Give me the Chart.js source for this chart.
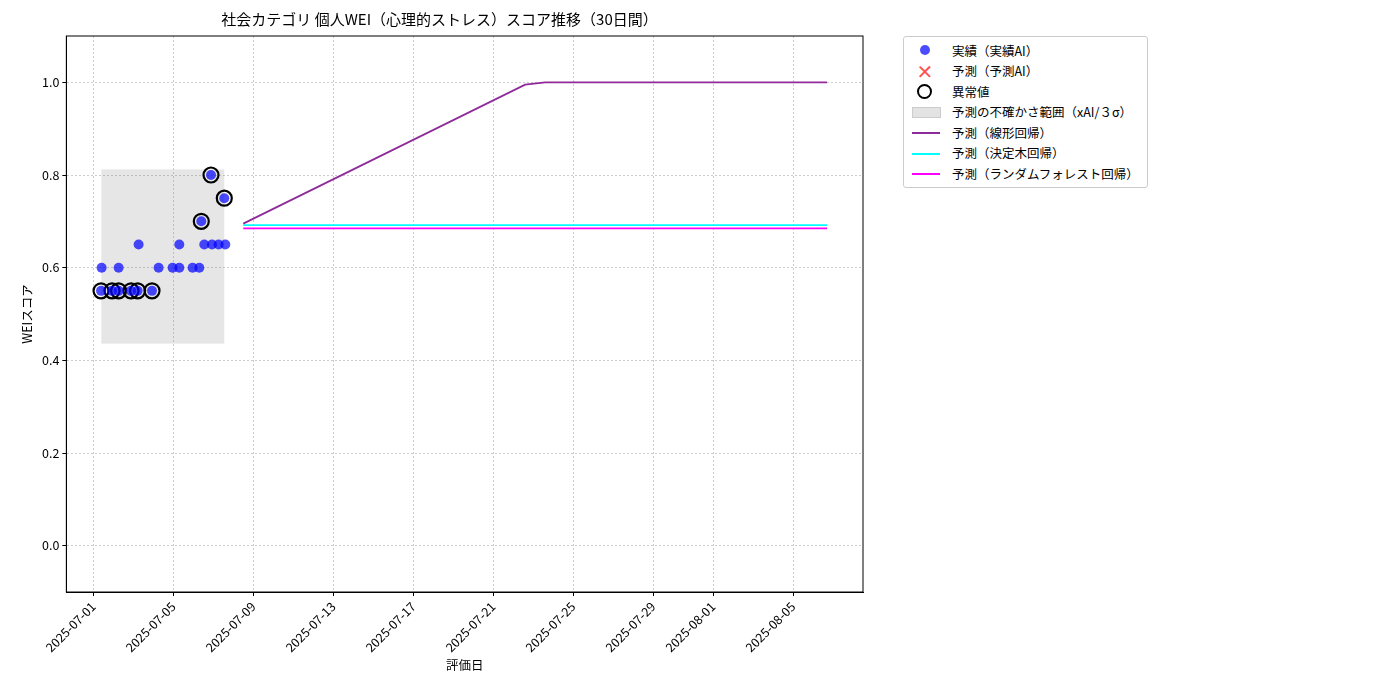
<!DOCTYPE html>
<html><head><meta charset="utf-8">
<script src="https://cdn.jsdelivr.net/npm/chart.js@4"></script>
<style>
body{margin:0;background:#fff;font-family:"Noto Sans CJK JP","DejaVu Sans",sans-serif;}
#wrap{position:relative;width:1400px;height:700px;}
#legend{position:absolute;left:903px;top:36px;border:1px solid #ccc;border-radius:3px;padding:3px 8px 3px 6px;font-size:12.5px;background:#fff;}
.row{display:flex;align-items:center;height:20.5px;}
.sym{width:30px;height:14px;position:relative;margin-right:12px;}
</style></head>
<body><div id="wrap"><canvas id="c" width="1400" height="700"></canvas>
<div id="legend">
<div class="row"><div class="sym"><div style="position:absolute;left:10px;top:2px;width:10px;height:10px;border-radius:50%;background:rgba(0,0,255,0.7)"></div></div>実績（実績AI）</div>
<div class="row"><div class="sym" style="color:rgba(255,0,0,0.7);font-size:20px;line-height:14px;text-align:center">✕</div>予測（予測AI）</div>
<div class="row"><div class="sym"><div style="position:absolute;left:7px;top:0;width:11px;height:11px;border-radius:50%;border:2.5px solid #000"></div></div>異常値</div>
<div class="row"><div class="sym"><div style="position:absolute;left:2px;top:2px;width:27px;height:9px;background:#e3e3e3;border:1px solid #ccc"></div></div>予測の不確かさ範囲（xAI/３σ）</div>
<div class="row"><div class="sym"><div style="position:absolute;left:2px;top:7px;width:28px;height:2px;background:#8f2a9a"></div></div>予測（線形回帰）</div>
<div class="row"><div class="sym"><div style="position:absolute;left:2px;top:7px;width:28px;height:2px;background:#00ffff"></div></div>予測（決定木回帰）</div>
<div class="row"><div class="sym"><div style="position:absolute;left:2px;top:7px;width:28px;height:2px;background:#ff00ff"></div></div>予測（ランダムフォレスト回帰）</div>
</div></div>
<script>
// days since 2025-07-01
const actualDays = [0.385,0.935,1.265,1.885,2.215,2.935, 0.415,1.265,3.265,3.965,4.3,4.965,5.3, 2.265,4.3,5.55,5.935,6.265,6.6, 5.4,5.885,6.55];
const actualVals = [0.55,0.55,0.55,0.55,0.55,0.55, 0.6,0.6,0.6,0.6,0.6,0.6,0.6, 0.65,0.65,0.65,0.65,0.65,0.65, 0.7,0.8,0.75];
const anomalyDays = [0.385,0.935,1.265,1.885,2.215,2.935,5.4,5.885,6.55];
const anomalyVals = [0.55,0.55,0.55,0.55,0.55,0.55,0.7,0.8,0.75];
const linDays = [7.5,21.6,22.6,36.7];
const linVals = [0.695,0.995,1.0,1.0];
const treeDays = [7.5,36.7];
const treeVals = [0.692,0.692];
const rfDays = [7.5,36.7];
const rfVals = [0.685,0.685];
const bandDays = [0.4,6.55];
const bandLow = 0.436, bandHigh = 0.812;
const tickDays = [0,4,8,12,16,20,24,28,31,35];

const base = Date.UTC(2025,6,1);
function fmt(d){const t=new Date(base+d*86400000);return t.toISOString().slice(0,10);}
const zip=(xs,ys)=>xs.map((x,i)=>({x,y:ys[i]}));

const bandPlugin={id:"band",beforeDatasetsDraw(ch){const {ctx,scales:{x,y}}=ch;ctx.save();
ctx.fillStyle="rgba(128,128,128,0.2)";
ctx.fillRect(x.getPixelForValue(bandDays[0]),y.getPixelForValue(bandHigh),x.getPixelForValue(bandDays[1])-x.getPixelForValue(bandDays[0]),y.getPixelForValue(bandLow)-y.getPixelForValue(bandHigh));ctx.restore();}};
const framePlugin={id:"frame",afterDraw(ch){const {ctx,chartArea:a}=ch;ctx.save();ctx.strokeStyle="#000";ctx.lineWidth=1;ctx.strokeRect(a.left,a.top,a.right-a.left,a.bottom-a.top);ctx.restore();}};

Chart.defaults.font.family='"Noto Sans CJK JP","DejaVu Sans",sans-serif';
Chart.defaults.color="#000";
new Chart(document.getElementById("c"),{
type:"scatter",
data:{datasets:[
{label:"予測（線形回帰）",type:"line",data:zip(linDays,linVals),borderColor:"#8f2a9a",borderWidth:1.8,pointRadius:0,fill:false},
{label:"予測（決定木回帰）",type:"line",data:zip(treeDays,treeVals),borderColor:"#00ffff",borderWidth:1.8,pointRadius:0},
{label:"予測（ランダムフォレスト回帰）",type:"line",data:zip(rfDays,rfVals),borderColor:"#ff00ff",borderWidth:1.8,pointRadius:0},
{label:"実績（実績AI）",data:zip(actualDays,actualVals),backgroundColor:"rgba(0,0,255,0.7)",borderWidth:0,pointRadius:5},
{label:"異常値",data:zip(anomalyDays,anomalyVals),backgroundColor:"rgba(0,0,0,0)",borderColor:"#000",borderWidth:2.2,pointRadius:7.5},
]},
options:{responsive:false,animation:false,
layout:{padding:{left:16,right:537,top:5,bottom:27}},
plugins:{legend:{display:false},tooltip:{enabled:false},
title:{display:true,text:"社会カテゴリ 個人WEI（心理的ストレス）スコア推移（30日間）",font:{size:15,weight:"normal"},padding:{top:5,bottom:8}}},
scales:{
x:{type:"linear",min:-1.35,max:38.5,
afterBuildTicks(s){s.ticks=tickDays.map(v=>({value:v}));},
ticks:{callback:v=>fmt(v),maxRotation:45,minRotation:45,font:{size:12.5},autoSkip:false},
grid:{color:"#ccc",tickColor:"#000",tickLength:4},border:{dash:[2,2],color:"#000"},
title:{display:true,text:"評価日",font:{size:12.5},padding:0}},
y:{min:-0.1,max:1.1,
afterBuildTicks(s){s.ticks=[0,0.2,0.4,0.6,0.8,1.0].map(v=>({value:v}));},
ticks:{callback:v=>v.toFixed(1),font:{size:12.5}},
grid:{color:"#ccc",tickColor:"#000",tickLength:4},border:{dash:[2,2],color:"#000"},
title:{display:true,text:"WEIスコア",font:{size:12.5}}}
}},
plugins:[bandPlugin,framePlugin]});
</script></body></html>
